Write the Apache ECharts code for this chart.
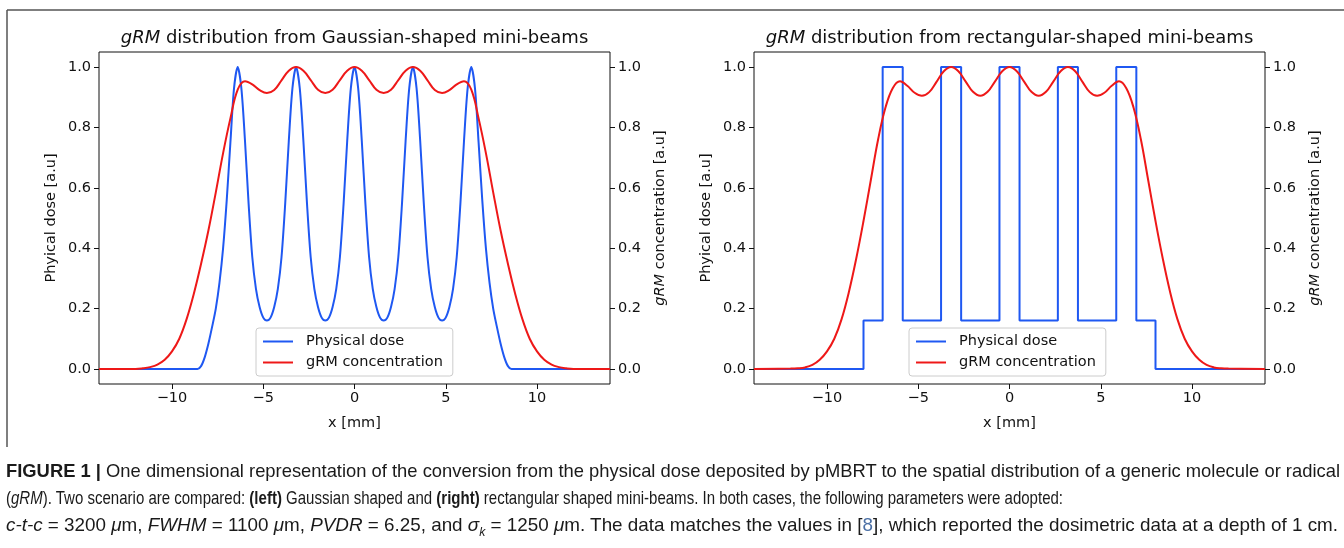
<!DOCTYPE html>
<html>
<head>
<meta charset="utf-8">
<title>gRM distribution from mini-beams</title>
<script src="https://cdn.jsdelivr.net/npm/echarts@6/dist/echarts.min.js"></script>
<style>
  html, body { margin: 0; padding: 0; background: #fff; }
  #main { width: 1344px; height: 548px; }
  #caption { position: absolute; left: 6px; top: 457px; font-family: 'Liberation Sans Narrow', 'Liberation Sans', sans-serif;
    font-size: 18.5px; line-height: 27px; color: #1a1a1a; white-space: nowrap; }
  #caption div { width: max-content; transform-origin: 0 50%; }
  #caption .ref { color: #4a6fa5; }
</style>
</head>
<body>
<div id="main"></div>
<div id="caption">
  <div data-w="1334"><b>FIGURE 1 |</b> One dimensional representation of the conversion from the physical dose deposited by pMBRT to the spatial distribution of a generic molecule or radical</div>
  <div data-w="1057">(<i>gRM</i>). Two scenario are compared: <b>(left)</b> Gaussian shaped and <b>(right)</b> rectangular shaped mini-beams. In both cases, the following parameters were adopted:</div>
  <div data-w="1332"><i>c-t-c</i> = 3200 <i>μ</i>m, <i>FWHM</i> = 1100 <i>μ</i>m, <i>PVDR</i> = 6.25, and <i>σ<sub style="font-size:12px">k</sub></i> = 1250 <i>μ</i>m. The data matches the values in [<span class="ref">8</span>], which reported the dosimetric data at a depth of 1 cm.</div>
</div>
<script>
// tick labels
var xTicks = [-10, -5, 0, 5, 10]
var yTicks = [0, 0.2, 0.4, 0.6, 0.8, 1.0]

// left panel: gaussian mini-beams, physical dose
var gaussDoseX = [-14, -8.6, -8.4, -8.2, -8.0, -7.8, -7.6, -7.4, -7.2, -7.0, -6.8, -6.6, -6.4, -6.2, -6.0, -5.8, -5.6, -5.4, -5.2, -5.0,
  -4.8, -4.6, -4.4, -4.2, -4.0, -3.8, -3.6, -3.4, -3.2, -3.0, -2.8, -2.6, -2.4, -2.2, -2.0, -1.8, -1.6, -1.4, -1.2, -1.0,
  -0.8, -0.6, -0.4, -0.2, 0, 0.2, 0.4, 0.6, 0.8, 1.0, 1.2, 1.4, 1.6, 1.8, 2.0, 2.2, 2.4, 2.6, 2.8, 3.0,
  3.2, 3.4, 3.6, 3.8, 4.0, 4.2, 4.4, 4.6, 4.8, 5.0, 5.2, 5.4, 5.6, 5.8, 6.0, 6.2, 6.4, 6.6, 6.8, 7.0,
  7.2, 7.4, 7.6, 7.8, 8.0, 8.2, 8.4, 8.6, 14]
var gaussDose = [0, 0, 0.01, 0.04, 0.085, 0.14, 0.2, 0.285, 0.4, 0.56, 0.75, 0.93, 1.0, 0.93, 0.755, 0.545, 0.37, 0.265, 0.205, 0.17,
  0.16, 0.17, 0.205, 0.265, 0.37, 0.545, 0.755, 0.93, 1.0, 0.93, 0.755, 0.545, 0.37, 0.265, 0.205, 0.17, 0.16, 0.17, 0.205, 0.265,
  0.37, 0.545, 0.755, 0.93, 1.0, 0.93, 0.755, 0.545, 0.37, 0.265, 0.205, 0.17, 0.16, 0.17, 0.205, 0.265, 0.37, 0.545, 0.755, 0.93,
  1.0, 0.93, 0.755, 0.545, 0.37, 0.265, 0.205, 0.17, 0.16, 0.17, 0.205, 0.265, 0.37, 0.545, 0.755, 0.93, 1.0, 0.93, 0.75, 0.56,
  0.4, 0.285, 0.2, 0.14, 0.085, 0.04, 0.01, 0, 0]

// gRM concentration, sampled on the same grid for both panels
var rmX = [-14, -12, -11.6, -11.2, -10.8, -10.4, -10, -9.6, -9.2, -8.8, -8.4, -8, -7.6, -7.2, -6.8, -6.4, -6, -5.6, -5.2, -4.8,
  -4.4, -4, -3.6, -3.2, -2.8, -2.4, -2, -1.6, -1.2, -0.8, -0.4, 0, 0.4, 0.8, 1.2, 1.6, 2, 2.4, 2.8, 3.2,
  3.6, 4, 4.4, 4.8, 5.2, 5.6, 6, 6.4, 6.8, 7.2, 7.6, 8, 8.4, 8.8, 9.2, 9.6, 10, 10.4, 10.8, 11.2,
  11.6, 12, 14]
var gaussRm = [0, 0, 0.002, 0.006, 0.014, 0.03, 0.058, 0.1, 0.165, 0.25, 0.35, 0.46, 0.585, 0.715, 0.83, 0.925, 0.953, 0.943, 0.924, 0.914,
  0.924, 0.956, 0.988, 1.0, 0.988, 0.957, 0.925, 0.914, 0.925, 0.957, 0.988, 1.0, 0.988, 0.957, 0.925, 0.914, 0.925, 0.957, 0.988, 1.0,
  0.988, 0.956, 0.924, 0.914, 0.924, 0.943, 0.953, 0.925, 0.83, 0.715, 0.585, 0.46, 0.35, 0.25, 0.165, 0.1, 0.058, 0.03, 0.014, 0.006,
  0.002, 0, 0]

// right panel: rectangular mini-beams (dose level starts at each edge)
var rectEdges = [-14, -8, -6.95, -5.85, -3.75, -2.65, -0.55, 0.55, 2.65, 3.75, 5.85, 6.95, 8, 14]
var rectDose = [0, 0.16, 1, 0.16, 1, 0.16, 1, 0.16, 1, 0.16, 1, 0.16, 0, 0]
var rectRm = [0, 0.001, 0.002, 0.005, 0.013, 0.03, 0.058, 0.1, 0.165, 0.255, 0.365, 0.49, 0.625, 0.76, 0.865, 0.93, 0.953, 0.938, 0.915, 0.905,
  0.917, 0.951, 0.986, 1.0, 0.986, 0.952, 0.918, 0.905, 0.918, 0.952, 0.986, 1.0, 0.986, 0.952, 0.918, 0.905, 0.918, 0.952, 0.986, 1.0,
  0.986, 0.951, 0.917, 0.905, 0.915, 0.938, 0.953, 0.93, 0.865, 0.76, 0.625, 0.49, 0.365, 0.255, 0.165, 0.1, 0.058, 0.03, 0.013, 0.005,
  0.002, 0.001, 0]

var BLUE = '#1f58f2'
var RED = '#ee1818'
var FONT = 'DejaVu Sans'
var FS = 14.5
var INK = '#111'

function pairs(xs, ys) {
  return xs.map(function (x, i) { return [x, ys[i]] })
}

function xAxisFor(gi) {
  return {
    type: 'value', gridIndex: gi, min: -14, max: 14,
    name: 'x [mm]', nameLocation: 'middle', nameGap: 32,
    nameTextStyle: { fontFamily: FONT, fontSize: FS, color: INK },
    axisLine: { show: false, onZero: false }, splitLine: { show: false },
    axisTick: { show: true, length: 5, lineStyle: { color: INK }, customValues: xTicks },
    axisLabel: { fontFamily: FONT, fontSize: FS, color: INK, margin: 7, customValues: xTicks,
      formatter: function (v) { return v < 0 ? '\u2212' + Math.abs(v) : String(v) } }
  }
}

function yAxisFor(gi, pos, name) {
  return {
    type: 'value', gridIndex: gi, position: pos, min: -0.05, max: 1.05,
    name: name, nameLocation: 'middle', nameRotate: 90, nameGap: pos === 'left' ? 40 : 43,
    nameTextStyle: { fontFamily: FONT, fontSize: FS, color: INK,
      rich: { i: { fontFamily: FONT, fontSize: FS, fontStyle: 'italic', color: INK } } },
    axisLine: { show: false, onZero: false }, splitLine: { show: false },
    axisTick: { show: true, length: 5, lineStyle: { color: INK }, customValues: yTicks },
    axisLabel: { fontFamily: FONT, fontSize: FS, color: INK, margin: 8, customValues: yTicks,
      formatter: function (v) { return v.toFixed(1) } }
  }
}

function legendAt(left) {
  return {
    left: left, top: 328, orient: 'vertical', icon: 'rect', itemWidth: 30, itemHeight: 2, itemGap: 6,
    data: ['Physical dose', 'gRM concentration'], selectedMode: false,
    textStyle: { fontFamily: FONT, fontSize: FS, color: INK, padding: [0, 0, 0, 8] },
    backgroundColor: 'rgba(255,255,255,0.8)', borderColor: '#cccccc', borderWidth: 1, borderRadius: 3,
    padding: [6, 10, 6, 7]
  }
}

function titleText(x, text) {
  return {
    type: 'text', x: x, y: 38,
    style: {
      text: text, fontFamily: FONT, fontSize: 18, fill: INK,
      align: 'center', verticalAlign: 'middle', textAlign: 'center', textVerticalAlign: 'middle',
      rich: { i: { fontFamily: FONT, fontSize: 18, fontStyle: 'italic', fill: INK } }
    }
  }
}

var myChart = echarts.init(document.getElementById('main'))

var option = {
  backgroundColor: '#fff',
  animation: false,
  grid: [
    { left: 99, top: 52, width: 511, height: 332, show: true, borderColor: INK, borderWidth: 1, backgroundColor: 'transparent' },
    { left: 754, top: 52, width: 511, height: 332, show: true, borderColor: INK, borderWidth: 1, backgroundColor: 'transparent' }
  ],
  xAxis: [xAxisFor(0), xAxisFor(1)],
  yAxis: [
    yAxisFor(0, 'left', 'Phyical dose [a.u]'),
    yAxisFor(0, 'right', '{i|gRM} concentration [a.u]'),
    yAxisFor(1, 'left', 'Phyical dose [a.u]'),
    yAxisFor(1, 'right', '{i|gRM} concentration [a.u]')
  ],
  legend: [legendAt(256), legendAt(909)],
  graphic: [
    { type: 'line', shape: { x1: 7, y1: 10, x2: 1344, y2: 10 }, style: { stroke: '#555', lineWidth: 1.5 } },
    { type: 'line', shape: { x1: 7, y1: 10, x2: 7, y2: 447 }, style: { stroke: '#555', lineWidth: 1.5 } },
    titleText(354.5, '{i|gRM} distribution from Gaussian-shaped mini-beams'),
    titleText(1009.5, '{i|gRM} distribution from rectangular-shaped mini-beams')
  ],
  series: [
    {
      name: 'Physical dose', type: 'line', xAxisIndex: 0, yAxisIndex: 0,
      data: pairs(gaussDoseX, gaussDose), symbol: 'none', smooth: 0.3,
      itemStyle: { color: BLUE }, lineStyle: { color: BLUE, width: 2 }
    },
    {
      name: 'gRM concentration', type: 'line', xAxisIndex: 0, yAxisIndex: 1,
      data: pairs(rmX, gaussRm), symbol: 'none', smooth: 0.4,
      itemStyle: { color: RED }, lineStyle: { color: RED, width: 2 }
    },
    {
      name: 'Physical dose', type: 'line', xAxisIndex: 1, yAxisIndex: 2,
      data: pairs(rectEdges, rectDose), symbol: 'none', step: 'end',
      itemStyle: { color: BLUE }, lineStyle: { color: BLUE, width: 2 }
    },
    {
      name: 'gRM concentration', type: 'line', xAxisIndex: 1, yAxisIndex: 3,
      data: pairs(rmX, rectRm), symbol: 'none', smooth: 0.4,
      itemStyle: { color: RED }, lineStyle: { color: RED, width: 2 }
    }
  ]
}

option && myChart.setOption(option)

// stretch each caption line to the width it takes in the printed figure
document.querySelectorAll('#caption div').forEach(function (el) {
  var w = el.getBoundingClientRect().width
  var target = +el.getAttribute('data-w')
  if (w > 0) el.style.transform = 'scaleX(' + (target / w).toFixed(4) + ')'
})
</script>
</body>
</html>
